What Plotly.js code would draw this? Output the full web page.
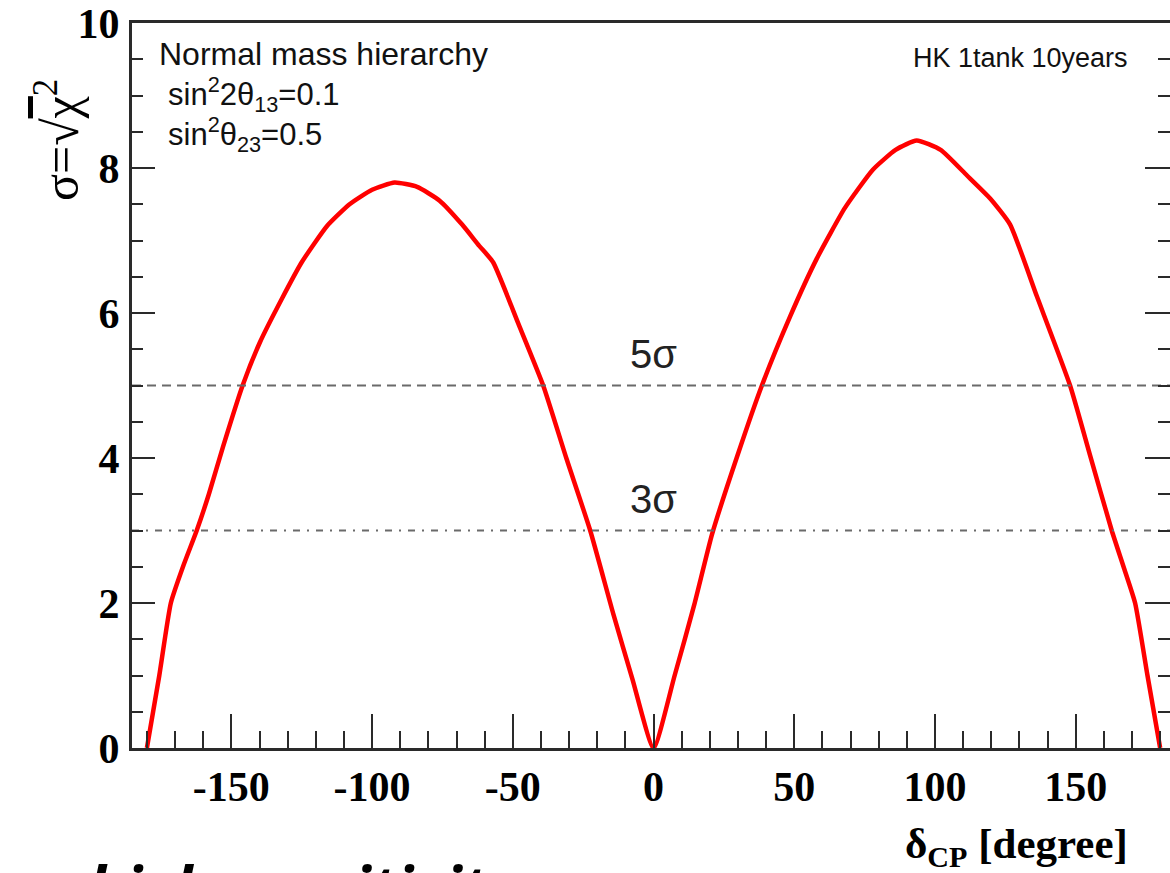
<!DOCTYPE html>
<html>
<head>
<meta charset="utf-8">
<script src="https://cdn.plot.ly/plotly-3.0.1.min.js"></script>
<style>html,body{margin:0;padding:0;background:#fff;}#chart{width:1170px;height:873px;}</style>
</head>
<body>
<div id="chart"></div>
<script>
// delta_CP [degree] and sigma = sqrt(chi^2)
const deltaCP = [-180, -175.6, -171.5, -167, -162.3, -158, -153, -146, -139.8, -132, -125, -116, -108, -100, -92, -84, -76, -68, -62, -57, -48, -39.2, -31, -22.5, -14.3, -7.5, 0,
                 7.5, 14.5, 20.8, 29.7, 38.5, 48.5, 58, 68, 78, 86, 93.5, 102, 111.3, 119.6, 126.7, 136.2, 148, 155, 162.8, 167, 171.1, 175.5, 180];
const sigma   = [0, 1.0, 2.0, 2.52, 3.0, 3.5, 4.15, 5.0, 5.6, 6.2, 6.7, 7.2, 7.5, 7.7, 7.8, 7.74, 7.55, 7.22, 6.93, 6.70, 5.85, 5.0, 4.0, 3.0, 1.85, 0.95, 0,
                 1.0, 1.98, 2.95, 4.02, 5.0, 5.95, 6.75, 7.45, 7.98, 8.25, 8.38, 8.25, 7.9, 7.58, 7.22, 6.23, 5.0, 4.05, 3.0, 2.5, 2.0, 1.0, 0];
// reference significance levels
const levels = [5, 3];
const levelLabels = ['5σ', '3σ'];
const levelDash = ['9px,6px', '7px,7px,2px,7px'];
// axis ranges / ticks
const xRange = [-185.3, 183.5];
const yRange = [0, 10];
const xTicks = [-150, -100, -50, 0, 50, 100, 150];
const yTicks = [0, 2, 4, 6, 8, 10];

const axisColor = '#2a2a2a';
const traces = [];
levels.forEach((lv, i) => {
  traces.push({
    x: xRange, y: [lv, lv], mode: 'lines', yaxis: 'y2',
    line: {color: '#6a6a6a', width: 2, dash: levelDash[i]},
    hoverinfo: 'skip', showlegend: false
  });
});
traces.push({
  x: deltaCP, y: sigma, mode: 'lines',
  line: {color: '#ff0000', width: 4.5, shape: 'spline', smoothing: 0.5},
  showlegend: false
});

const tickFont = {family: '"Liberation Serif", "Times New Roman", serif', size: 42, color: '#000', weight: 'bold'};
const sans = '"Liberation Sans", Arial, Helvetica, sans-serif';

const layout = {
  width: 1170, height: 873,
  margin: {l: 132, r: 0, t: 23, b: 125, pad: 0},
  paper_bgcolor: '#fff', plot_bgcolor: '#fff',
  showlegend: false,
  xaxis: {
    range: xRange, tickvals: xTicks, ticktext: xTicks.map(String),
    ticks: 'inside', ticklen: 34, tickwidth: 2, tickcolor: axisColor,
    minor: {dtick: 10, tick0: 0, ticks: 'inside', ticklen: 17, tickwidth: 2, tickcolor: axisColor, showgrid: false},
    showline: true, linewidth: 3, linecolor: axisColor, mirror: true,
    showgrid: false, zeroline: false, tickfont: tickFont, ticklabelstandoff: 0
  },
  yaxis: {
    range: yRange, tickvals: yTicks, ticktext: yTicks.map(String),
    ticks: 'inside', ticklen: 23, tickwidth: 2, tickcolor: axisColor,
    minor: {dtick: 0.5, tick0: 0, ticks: 'inside', ticklen: 11, tickwidth: 2, tickcolor: axisColor, showgrid: false},
    showline: true, linewidth: 3, linecolor: axisColor,
    showgrid: false, zeroline: false, tickfont: tickFont, ticklabelstandoff: 1
  },
  yaxis2: {
    range: yRange, overlaying: 'y', side: 'right', anchor: 'x',
    tickvals: yTicks, showticklabels: false,
    ticks: 'inside', ticklen: 25, tickwidth: 2, tickcolor: axisColor,
    minor: {dtick: 0.5, tick0: 0, ticks: 'inside', ticklen: 12, tickwidth: 2, tickcolor: axisColor, showgrid: false},
    showline: false, showgrid: false, zeroline: false
  },
  annotations: [],
  font: {family: sans}
};

// Pixel-placed annotations (converted to paper coordinates of plot area)
const plotL = 132, plotT = 23, plotW = 1170 - 132, plotH = 873 - 23 - 125;
function px(x, y) { return {x: (x - plotL) / plotW, y: 1 - (y - plotT) / plotH}; }
function addText(text, x, y, opts) {
  const p = px(x, y);
  layout.annotations.push(Object.assign({
    text: text, xref: 'paper', yref: 'paper', x: p.x, y: p.y,
    showarrow: false, xanchor: 'left', yanchor: 'middle',
    font: {family: sans, size: 32, color: '#111'}
  }, opts || {}));
}
addText('Normal mass hierarchy', 157, 54);
addText('sin<sup>2</sup>2θ<sub>13</sub>=0.1', 166, 95, {font: {family: sans, size: 31, color: '#111'}});
addText('sin<sup>2</sup>θ<sub>23</sub>=0.5', 166, 134, {font: {family: sans, size: 31, color: '#111'}});
addText('HK 1tank 10years', 1130, 58, {xanchor: 'right', font: {family: sans, size: 27, color: '#111'}});
levels.forEach((lv, i) => {
  layout.annotations.push({
    text: levelLabels[i], xref: 'x', yref: 'y', x: 0, y: lv, yshift: 32,
    showarrow: false, xanchor: 'center', yanchor: 'middle',
    font: {family: sans, size: 40, color: '#222'}
  });
});
addText('σ=√<span style="text-decoration:overline">χ</span><sup>2</sup>', 58, 140,
  {xanchor: 'center', textangle: -90, font: {family: '"Liberation Serif", "Times New Roman", serif', size: 50, color: '#000'}});
addText('<b>δ<sub>CP</sub> [degree]</b>', 1130, 847,
  {xanchor: 'right', font: {family: '"Liberation Serif", "Times New Roman", serif', size: 43, color: '#000'}});
addText('<b><i>high sensitivity</i></b>', 86, 887,
  {xanchor: 'left', font: {family: '"Open Sans", "DejaVu Sans", sans-serif', size: 60, color: '#000'}});

Plotly.newPlot('chart', traces, layout, {displayModeBar: false, staticPlot: true});
</script>
</body>
</html>
